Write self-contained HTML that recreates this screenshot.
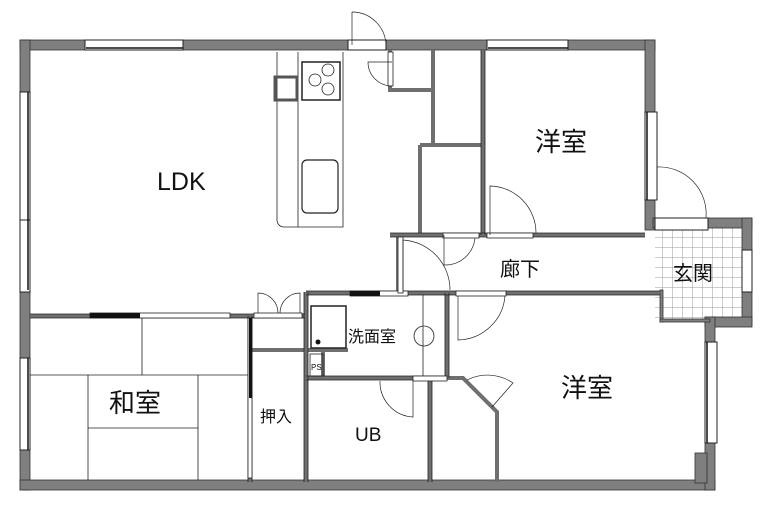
<!DOCTYPE html>
<html><head><meta charset="utf-8"><style>
html,body{margin:0;padding:0;background:#fff;width:763px;height:510px;overflow:hidden}
text{font-family:"Liberation Sans","Noto Sans CJK JP",sans-serif;fill:#111}
</style></head><body>
<svg width="763" height="510" viewBox="0 0 763 510" xmlns="http://www.w3.org/2000/svg">
<defs>
<pattern id="tile" width="10" height="10" patternUnits="userSpaceOnUse" x="653" y="228">
<path d="M10 0V10M0 10H10" stroke="#999" stroke-width="1" fill="none"/>
</pattern>
</defs>
<rect x="655" y="228" width="88" height="92" fill="url(#tile)"/>
<g fill="#7f7f7f" stroke="#333" stroke-width="0.8">
<rect x="20" y="40" width="635" height="10"/>
<rect x="20" y="40" width="10" height="450"/>
<rect x="20" y="480" width="695" height="10"/>
<rect x="645" y="40" width="10" height="190"/>
<rect x="653" y="218" width="99" height="10"/>
<rect x="742" y="218" width="10" height="107"/>
<rect x="705" y="317" width="47" height="10"/>
<rect x="705" y="317" width="10" height="173"/>
<rect x="695" y="453" width="12" height="30"/>
<rect x="660" y="290" width="3" height="32"/>
<rect x="660" y="319" width="50" height="3"/>
</g>
<g fill="#fff" stroke="#222" stroke-width="1">
<rect x="85" y="40" width="98" height="10"/>
<rect x="487" y="40" width="81" height="10"/>
<rect x="348" y="40" width="38" height="10"/>
<rect x="20" y="92" width="10" height="128"/>
<rect x="20" y="220" width="10" height="72"/>
<rect x="20" y="358" width="10" height="92"/>
<rect x="645" y="112" width="12" height="88"/>
<rect x="655" y="218" width="53" height="12"/>
<rect x="742" y="250" width="10" height="42"/>
<rect x="705" y="342" width="12" height="101"/>
</g>
<g stroke="#111" stroke-width="1.5" fill="none">
<line x1="86" y1="48" x2="183" y2="48"/><line x1="488" y1="48" x2="568" y2="48"/>
<line x1="28" y1="92" x2="28" y2="290"/><line x1="28" y1="358" x2="28" y2="450"/>
<line x1="647" y1="112" x2="647" y2="200"/><line x1="707" y1="342" x2="707" y2="443"/>
</g>
<g stroke="#6f6f6f" stroke-width="4" fill="none">
<path d="M30 316H305"/>
<path d="M250 316V482"/>
<path d="M250 350H305"/>
<path d="M306 292V482"/>
<path d="M306 293H447"/>
<path d="M306 378H447"/>
<path d="M430 378V482"/>
<path d="M447 293V378"/>
<path d="M447 293H660"/>
<path d="M447 378H463L497 412V482"/>
<path d="M390 50V90H433"/>
<path d="M433 50V145"/>
<path d="M420 145H483"/>
<path d="M420 145V235"/>
<path d="M483 50V235"/>
<path d="M390 235H645"/>
<path d="M398 235V293"/>
<path d="M306 350H348"/>
<path d="M323 350V378"/>
</g>
<g stroke="#222" stroke-width="0.8" fill="none">
<path d="M30 314H305M30 318H305M248 316V482M252 316V482M304 292V482M308 292V482M306 291H447M306 295H447M306 376H447M306 380H447M428 380V482M432 380V482M445 293V378M449 293V378M447 291H660M447 295H660M481 50V235M485 50V235M390 233H645M390 237H645"/>
</g>
<g fill="#fff" stroke="#222" stroke-width="0.8">
<rect x="90" y="313" width="140" height="5"/>
<rect x="254" y="313" width="48" height="5"/>
<rect x="350" y="291" width="58" height="5"/>
<rect x="456" y="291" width="50" height="5"/>
<rect x="487" y="233" width="46" height="5"/>
<rect x="443" y="233" width="36" height="5"/>
<rect x="398" y="237" width="5" height="56"/>
<rect x="248" y="318" width="4" height="160"/>
<rect x="413" y="376" width="34" height="5"/>
<rect x="388" y="52" width="5" height="34"/>
</g>
<g fill="#111"><rect x="90" y="313" width="50" height="5"/><rect x="249" y="318" width="3" height="80"/><rect x="350" y="291" width="30" height="5"/></g>
<g stroke="#222" stroke-width="0.7" fill="none">
<path d="M352 12V45M352 12A34 34 0 0 1 386 45"/>
<path d="M392 62H368A24 24 0 0 0 392 86"/>
<path d="M490 235V186A47 47 0 0 1 536 233"/>
<path d="M657 167A47 47 0 0 1 706 218"/>
<path d="M403 240A50 50 0 0 1 450 290M403 240V290"/>
<path d="M458 296V340A48 48 0 0 0 505 296"/>
<path d="M258 313V293A20 20 0 0 1 278 313M300 313V293A20 20 0 0 0 280 313"/>
<path d="M413 380V417A35 35 0 0 1 380 381"/>
<path d="M467 380A45 45 0 0 1 513 383L492 407"/>
<path d="M444 235V265A30 30 0 0 0 475 238"/>
</g>
<g stroke="#222" stroke-width="0.8" fill="none">
<path d="M277 52V220A7 7 0 0 0 284 227H343V52"/>
<line x1="298" y1="52" x2="298" y2="227"/>
<rect x="302" y="62" width="38" height="38" stroke-width="1.5"/>
<circle cx="328" cy="70" r="6"/><circle cx="315" cy="80" r="6"/><circle cx="328" cy="89" r="6"/>
<rect x="302" y="160" width="36" height="53" rx="5" stroke-width="1.2"/>
<rect x="311" y="306" width="35" height="42" stroke-width="1.5"/>
<circle cx="424" cy="336" r="10"/>
<rect x="310" y="354" width="13" height="22"/>
<line x1="423" y1="295" x2="423" y2="376"/>
</g>
<rect x="275" y="77" width="22" height="23" fill="none" stroke="#555" stroke-width="3"/>
<circle cx="318" cy="342" r="2.5" fill="#111"/>
<g stroke="#222" stroke-width="0.8" fill="none">
<path d="M142 318V375M30 375H248M88 375V480M198 375V480M88 428H198"/>
</g>
<text x="157" y="190" font-size="25">LDK</text>
<text x="535" y="151" font-size="26">洋室</text>
<text x="500" y="276" font-size="20">廊下</text>
<text x="673" y="280" font-size="20">玄関</text>
<text x="561" y="397" font-size="26">洋室</text>
<text x="109" y="412" font-size="26">和室</text>
<text x="260" y="422" font-size="16">押入</text>
<text x="348" y="342" font-size="16">洗面室</text>
<text x="355" y="441" font-size="19">UB</text>
<text x="311" y="370" font-size="8">PS</text>
</svg>
</body></html>
